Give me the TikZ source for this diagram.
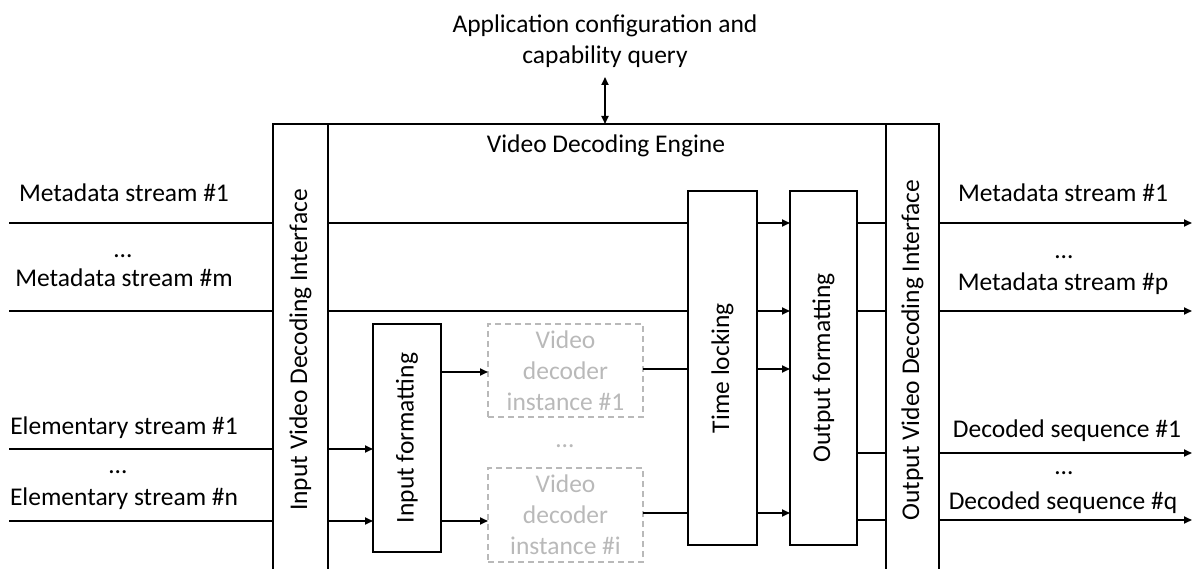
\documentclass[tikz,border=0pt]{standalone}
\usepackage{fontspec}
\setmainfont{Carlito}
\usetikzlibrary{arrows.meta}
\definecolor{decgray}{RGB}{185,185,185}
\begin{document}
\begin{tikzpicture}[x=1pt,y=-1pt,
  every node/.style={font=\fontsize{25.5}{31}\selectfont, inner sep=0pt, outer sep=0pt},
  box/.style={draw=black, line width=1.1pt, anchor=north west},
  decbox/.style={draw=decgray, line width=1.1pt, dash pattern=on 6pt off 4pt, anchor=north west, text=decgray, align=center},
  conn/.style={line width=1.8pt},
  arr/.style={line width=1.8pt, -{Triangle[length=8pt,width=7pt]}},
  darr/.style={line width=1.8pt, {Triangle[length=8pt,width=7pt]}-{Triangle[length=8pt,width=7pt]}},
  lbl/.style={anchor=base},
  vlbl/.style={rotate=90}
]
\useasboundingbox (0,0) rectangle (1200,569);
\clip (0,0) rectangle (1200,569);

% outer engine and interface columns
\node[box, minimum width=666pt, minimum height=470pt] (engine) at (273,124) {};
\node[box, minimum width=55pt, minimum height=470pt] (inif) at (273,124) {};
\node[box, minimum width=53pt, minimum height=470pt] (outif) at (886,124) {};
\node[vlbl] (inifl) at (300.5,350) {Input Video Decoding Interface};
\node[vlbl] (outifl) at (912.5,350) {Output Video Decoding Interface};
\node[lbl] (engl) at (606,153) {Video Decoding Engine};

% title
\node[align=center] (title) at (605,41) {Application configuration and\\capability query};
\draw[darr] (title.south |- 0,77) coordinate (tq) -- (tq |- engine.north);

% inner blocks
\node[box, minimum width=69pt, minimum height=354pt] (tl) at (688,191) {};
\node[vlbl] (tll) at (722.5,368) {Time locking};
\node[box, minimum width=67pt, minimum height=354pt] (of) at (790,191) {};
\node[vlbl] (ofl) at (823.5,368) {Output formatting};
\node[box, minimum width=68pt, minimum height=228pt] (inf) at (373,324) {};
\node[vlbl] (infl) at (407,438) {Input formatting};
\node[decbox, minimum width=155pt, minimum height=93pt] (dec1) at (488,324) {Video\\decoder\\instance \#1};
\node[decbox, minimum width=155pt, minimum height=94pt] (dec2) at (488,468) {Video\\decoder\\instance \#i};
\node[lbl, text=decgray] (decdots) at (565,447) {…};

% left labels
\node[lbl] (lm1) at (124,202) {Metadata stream \#1};
\node[lbl] (ldm) at (123,258) {…};
\node[lbl] (lmm) at (124,287) {Metadata stream \#m};
\node[lbl] (le1) at (124,434) {Elementary stream \#1};
\node[lbl] (lde) at (118,473) {…};
\node[lbl] (len) at (124,505) {Elementary stream \#n};

% right labels
\node[lbl] (rm1) at (1063,202) {Metadata stream \#1};
\node[lbl] (rdm) at (1064,259) {…};
\node[lbl] (rmp) at (1063,291) {Metadata stream \#p};
\node[lbl] (rd1) at (1067,437) {Decoded sequence \#1};
\node[lbl] (rdd) at (1064,474) {…};
\node[lbl] (rdq) at (1063,509) {Decoded sequence \#q};

% end coordinates
\coordinate (mA) at (9,223);
\coordinate (mB) at (9,311);
\coordinate (eA) at (9,449);
\coordinate (eB) at (9,521);
\coordinate (oA) at (1192,223);
\coordinate (oB) at (1192,311);
\coordinate (oC) at (1192,453);
\coordinate (oD) at (1192,520);
\coordinate (yd1) at (0,369);
\coordinate (yd2) at (0,513);
\coordinate (yf1) at (0,372);

% metadata rows
\foreach \s/\t in {mA/oA, mB/oB}{
  \draw[conn] (\s) -- (\s -| inif.west);
  \draw[conn] (\s -| inif.east) -- (\s -| tl.west);
  \draw[arr] (\s -| tl.east) -- (\s -| of.west);
  \draw[conn] (\s -| of.east) -- (\s -| outif.west);
  \draw[arr] (\s -| outif.east) -- (\t);
}
% elementary streams
\foreach \s in {eA, eB}{
  \draw[conn] (\s) -- (\s -| inif.west);
  \draw[arr] (\s -| inif.east) -- (\s -| inf.west);
}
\draw[arr] (inf.east |- yf1) -- (dec1.west |- yf1);
\draw[arr] (inf.east |- eB) -- (dec2.west |- eB);
\draw[conn] (dec1.east |- yd1) -- (tl.west |- yd1);
\draw[arr] (tl.east |- yd1) -- (of.west |- yd1);
\draw[conn] (dec2.east |- yd2) -- (tl.west |- yd2);
\draw[arr] (tl.east |- yd2) -- (of.west |- yd2);
% decoded outputs
\foreach \t in {oC, oD}{
  \draw[conn] (of.east |- \t) -- (outif.west |- \t);
  \draw[arr] (outif.east |- \t) -- (\t);
}
\end{tikzpicture}
\end{document}
